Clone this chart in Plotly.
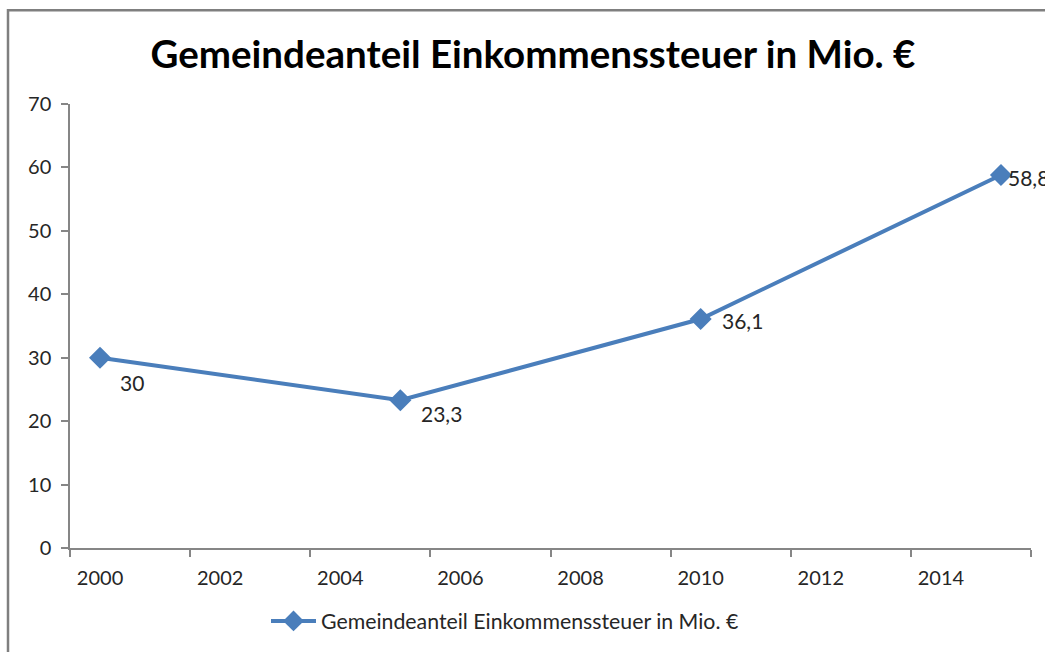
import plotly.graph_objects as go

years = [2000, 2005, 2010, 2015]
values = [30, 23.3, 36.1, 58.8]
series_name = "Gemeindeanteil Einkommenssteuer in Mio. €"
title_text = "Gemeindeanteil Einkommenssteuer in Mio. €"
x_tick_labels = ["2000", "2002", "2004", "2006", "2008", "2010", "2012", "2014"]
y_tick_vals = [0, 10, 20, 30, 40, 50, 60, 70]

LINE = "#4A7EBB"
AXIS = "#868686"
TXT = "#262626"
FONT = "Lato"

fig = go.Figure()
fig.add_trace(go.Scatter(
    x=years, y=values, mode="lines+markers", name=series_name,
    line=dict(color=LINE, width=4),
    marker=dict(symbol="diamond", size=17, color=LINE),
    cliponaxis=False,
))

# data labels (shifted like the reference)
shifts = [(18, -25), (19, -13), (19, -1), (5, -2)]
for xv, yv, (dx, dy) in zip(years, values, shifts):
    fig.add_annotation(
        x=xv, y=yv, text=f"{yv:g}".replace(".", ","), showarrow=False,
        xanchor="left", yanchor="middle", xshift=dx, yshift=dy,
        font=dict(family=FONT, size=21, color=TXT),
    )

label_pos = [int(t) for t in x_tick_labels]
minor_ticks = [p - 0.5 for p in label_pos] + [label_pos[-1] + 1.5]

fig.update_layout(
    width=1045, height=652,
    margin=dict(l=70, r=14, t=104, b=103),
    paper_bgcolor="white", plot_bgcolor="white",
    font=dict(family=FONT, size=20, color=TXT),
    title=dict(text=title_text, x=0.51, xanchor="center", y=1 - 55 / 652,
               yanchor="middle", yref="container",
               font=dict(family=FONT, size=38.5, color="black", weight="bold")),
    showlegend=True,
    legend=dict(orientation="h", x=(266 - 70) / 961, xanchor="left",
                y=-0.162, yanchor="middle", font=dict(family=FONT, size=21.3, color=TXT),
                itemwidth=45),
    xaxis=dict(range=[1999.5, 2015.5], tickmode="array", tickvals=label_pos,
               ticktext=x_tick_labels, ticks="", showgrid=False, zeroline=False,
               showline=True, linecolor=AXIS, linewidth=1.5,
               tickfont=dict(family=FONT, size=20, color=TXT),
               minor=dict(tickmode="array", tickvals=minor_ticks, ticks="outside",
                          ticklen=7, tickcolor=AXIS, tickwidth=1.5, showgrid=False),
               ticklabelstandoff=11),
    yaxis=dict(range=[0, 70], tickmode="array", tickvals=y_tick_vals,
               ticks="outside", ticklen=7, tickcolor=AXIS, tickwidth=1.5,
               showgrid=False, zeroline=False, showline=True, linecolor=AXIS,
               linewidth=1.5, tickfont=dict(family=FONT, size=20, color=TXT),
               ticklabelstandoff=6),
)

fig.add_shape(type="rect", xref="paper", yref="paper",
              x0=(8 - 70) / 961, x1=1.2, y0=-0.5, y1=(549 - 10) / 445,
              line=dict(color="#7F7F7F", width=2.5), fillcolor="rgba(0,0,0,0)", layer="below")

fig.write_html("out.html", post_script="document.body.style.margin='0';",
               config={"displayModeBar": False})
